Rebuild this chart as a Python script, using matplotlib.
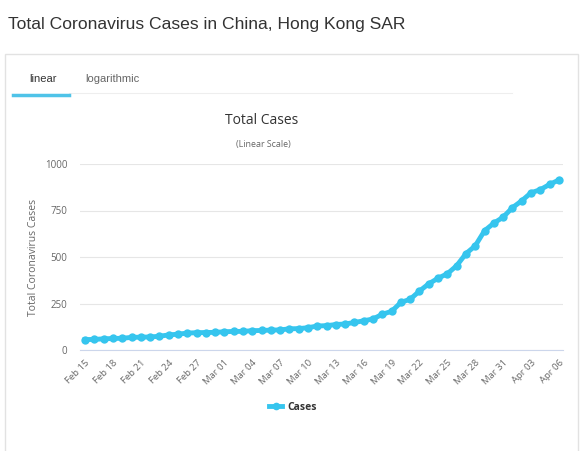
import datetime
import numpy as np
import matplotlib
matplotlib.use('Agg')
import matplotlib.pyplot as plt
from matplotlib.patches import Rectangle
from matplotlib.lines import Line2D

start = datetime.date(2020, 2, 15)
days = [start + datetime.timedelta(days=i) for i in range(52)]
dates = [d.strftime('%b %d') for d in days]
cases = [56, 57, 60, 62, 63, 68, 69, 70, 74, 81, 85, 91, 93, 94, 95,
         98, 100, 100, 104, 105, 107, 108, 114, 115, 120, 129, 131, 137,
         140, 148, 157, 167, 192, 208, 256, 273, 317, 356, 386, 410, 453,
         518, 560, 641, 682, 714, 765, 802, 845, 862, 890, 914]
yticks = [0, 250, 500, 750, 1000]

blue = '#36c5ee'
W, H = 584, 451

fig = plt.figure(figsize=(W / 100, H / 100), dpi=100)
fig.patch.set_facecolor('white')

def fx(px):
    return px / W

def fy(py):
    return 1 - py / H

# page title
fig.text(fx(8), fy(25), 'Total Coronavirus Cases in China, Hong Kong SAR',
         fontsize=12.6, color='#333333', family='Liberation Sans', va='center')

# card border
fig.patches.append(Rectangle((fx(5), fy(460)), fx(573), fy(54) - fy(460),
                             transform=fig.transFigure, fill=False,
                             edgecolor='#e2e2e2', linewidth=1))

# tabs
fig.text(fx(43), fy(79), 'linear', fontsize=8, color='#333333',
         family='Liberation Sans', ha='center', va='center')
fig.text(fx(112), fy(79), 'logarithmic', fontsize=8, color='#666666',
         family='Liberation Sans', ha='center', va='center')
fig.lines.append(Line2D([fx(69), fx(512)], [fy(93), fy(93)],
                        transform=fig.transFigure, color='#eeeeee', lw=0.8))
fig.lines.append(Line2D([fx(13), fx(69)], [fy(95), fy(95)],
                        transform=fig.transFigure, color='#4fc3e8', lw=2.5))

# chart titles
fig.text(fx(262), fy(121), 'Total Cases', fontsize=10, color='#333333',
         family='Open Sans', ha='center', va='center')
fig.text(fx(263), fy(145), '(Linear Scale)', fontsize=6.4, color='#666666',
         family='Open Sans', ha='center', va='center')

ax = fig.add_axes([fx(80), fy(350), fx(563) - fx(80), fy(164) - fy(350)])
x = np.arange(len(cases))
ax.plot(x, cases, color=blue, lw=3.5, marker='o', markersize=6,
        markeredgewidth=0, label='Cases')
ax.set_xlim(-0.55, len(cases) - 0.55)
ax.set_ylim(0, 1000)
ax.set_yticks(yticks)
ax.set_yticklabels([str(v) for v in yticks], family='Open Sans',
                   fontsize=7, color='#666666')
ax.set_xticks(x[::3])
ax.set_xticklabels(dates[::3], rotation=45, ha='right', rotation_mode='anchor',
                   family='Open Sans', fontsize=6.8, color='#666666')
ax.tick_params(axis='y', length=0, pad=9)
ax.tick_params(axis='x', length=0, pad=6)
ax.grid(axis='y', color='#e6e6e6', lw=0.8)
ax.set_axisbelow(True)
for s in ['top', 'right', 'left']:
    ax.spines[s].set_visible(False)
ax.spines['bottom'].set_color('#ccd6eb')
ax.set_ylabel('Total Coronavirus Cases', family='Open Sans', fontsize=7.5,
              color='#666666', labelpad=4)

leg = fig.legend(handles=[Line2D([], [], color=blue, lw=3.5, marker='o',
                                 markersize=5.5, markeredgewidth=0)],
                 labels=['Cases'], loc='center', bbox_to_anchor=(fx(293), fy(407)),
                 frameon=False, handlelength=1.2, handletextpad=0.5,
                 prop={'family': 'Open Sans', 'size': 7.5, 'weight': 'bold'})
for t in leg.get_texts():
    t.set_color('#333333')

fig.savefig('out.png', dpi=100, facecolor='white')
